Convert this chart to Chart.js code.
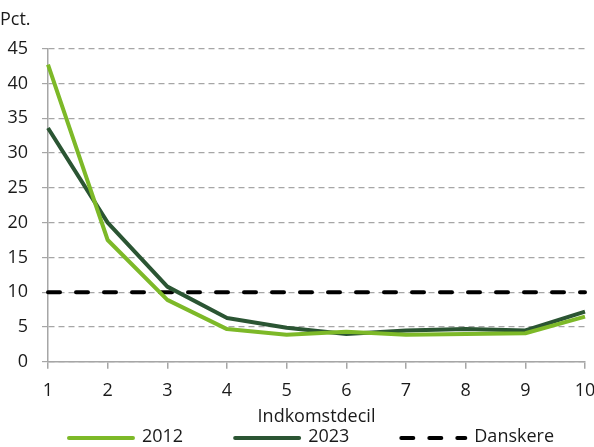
<!DOCTYPE html>
<html>
<head>
<meta charset="utf-8">
<script src="https://cdn.jsdelivr.net/npm/chart.js@4/dist/chart.umd.min.js"></script>
<style>
    html, body { margin: 0; padding: 0; background: #fff; }
    #wrap { width: 594px; height: 447px; }
</style>
</head>
<body>
<div id="wrap"><canvas id="chart"></canvas></div>
<script>
// Data
const deciles = ['1', '2', '3', '4', '5', '6', '7', '8', '9', '10'];
const values2012 = [42.7, 17.5, 8.9, 4.7, 3.9, 4.3, 3.9, 4.0, 4.1, 6.5];
const values2023 = [33.6, 20.0, 10.8, 6.3, 4.9, 4.0, 4.5, 4.7, 4.5, 7.2];
const danskere = [10, 10, 10, 10, 10, 10, 10, 10, 10, 10];
const yTicks = [0, 5, 10, 15, 20, 25, 30, 35, 40, 45];

const FONT = "'Open Sans', 'Noto Sans', sans-serif";
const TEXT = '#1a1a1a';
const AXIS = '#a6a6a6';
const FS = 18;

Chart.defaults.font.family = FONT;
Chart.defaults.color = TEXT;

// Legend drawn at the bottom with wide line samples
const bottomLegend = {
    id: 'bottomLegend',
    afterDraw(chart) {
        const c = chart.ctx;
        const lineW = 68, gap = 7, spacing = 50, y = 437;
        c.save();
        c.font = `${FS}px ${FONT}`;
        const items = chart.data.datasets.map(ds => ({ ds, tw: c.measureText(ds.label).width }));
        const total = items.reduce((s, it) => s + lineW + gap + it.tw, 0) + spacing * (items.length - 1);
        const area = chart.chartArea;
        let x = (area.left + area.right) / 2 - 6 - total / 2;
        items.forEach(({ ds, tw }) => {
            c.beginPath();
            c.strokeStyle = ds.borderColor;
            c.lineWidth = 4;
            c.lineCap = 'round';
            c.setLineDash(ds.borderDash || []);
            c.moveTo(x + 2, y + 1);
            c.lineTo(x + lineW - 2, y + 1);
            c.stroke();
            c.setLineDash([]);
            c.fillStyle = TEXT;
            c.textBaseline = 'middle';
            c.textAlign = 'left';
            c.fillText(ds.label, x + lineW + gap, y);
            x += lineW + gap + tw + spacing;
        });
        c.restore();
    }
};

const ctx = document.getElementById('chart').getContext('2d');

new Chart(ctx, {
    type: 'line',
    data: {
        labels: deciles,
        datasets: [{
            label: '2012',
            data: values2012,
            borderColor: '#7db928',
            borderWidth: 4,
            borderJoinStyle: 'round',
            pointRadius: 0,
            tension: 0
        }, {
            label: '2023',
            data: values2023,
            borderColor: '#2b5533',
            borderWidth: 4,
            borderJoinStyle: 'round',
            pointRadius: 0,
            tension: 0
        }, {
            label: 'Danskere',
            data: danskere,
            borderColor: '#000',
            borderWidth: 4,
            borderDash: [12, 16],
            borderCapStyle: 'round',
            pointRadius: 0,
            tension: 0
        }]
    },
    options: {
        responsive: true,
        maintainAspectRatio: false,
        animation: false,
        layout: { padding: { left: 0, right: 0, top: 0, bottom: 19 } },
        plugins: {
            title: {
                display: true,
                text: 'Pct.',
                align: 'start',
                font: { size: FS, weight: 'normal' },
                color: TEXT,
                padding: { top: 9, bottom: 18 }
            },
            tooltip: { enabled: false },
            legend: { display: false }
        },
        scales: {
            x: {
                offset: false,
                afterFit: (s) => { s.paddingRight = 9; },
                title: {
                    display: true,
                    text: 'Indkomstdecil',
                    font: { size: FS },
                    color: TEXT,
                    padding: { top: -6, bottom: 0 }
                },
                grid: {
                    drawOnChartArea: false,
                    drawTicks: true,
                    tickLength: 7,
                    color: AXIS,
                    lineWidth: 1.5
                },
                border: { color: AXIS, width: 1.5 },
                ticks: { font: { size: FS }, color: TEXT, padding: 11, maxRotation: 0 }
            },
            y: {
                min: 0,
                max: 45,
                afterBuildTicks: (axis) => { axis.ticks = yTicks.map(v => ({ value: v })); },
                afterFit: (s) => { s.width = 48; },
                grid: {
                    color: AXIS,
                    lineWidth: 1.2,
                    tickBorderDash: [],
                    tickLength: 6
                },
                border: { color: AXIS, width: 1.5, dash: [6, 4] },
                ticks: { font: { size: FS }, color: TEXT, padding: 14 }
            }
        }
    },
    plugins: [bottomLegend]
});
</script>
</body>
</html>
